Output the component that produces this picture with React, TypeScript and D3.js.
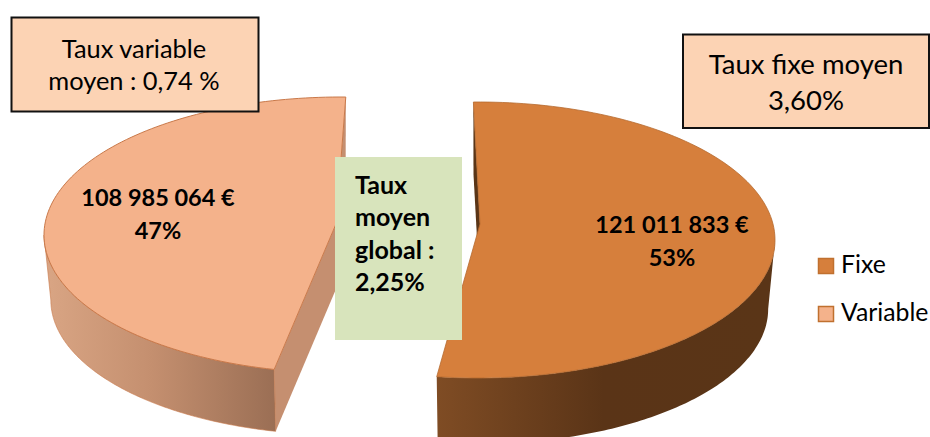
import React from "react";
import * as d3 from "d3";

// values
const categories = ["Fixe", "Variable"];
const amounts = [121011833, 108985064];
const amountLabels = ["121 011 833 €", "108 985 064 €"];
const shareLabels = ["53%", "47%"];
const rateLines = [["Taux fixe moyen", "3,60%"], ["Taux variable", "moyen : 0,74 %"]];
const globalLines = ["Taux", "moyen", "global :", "2,25%"];

const width = 930, height = 437;
const font = "Lato, 'Open Sans', sans-serif";

const topColor = ["#d67f3c", "#f4b28b"];
const edgeColor = ["#b5692e", "#c9794a"];
const endWall = ["#5a3517", "#c58f70"];

// one exploded slice: ellipse of the top face, apex nudge, offset of the lower rim
const slices = [
  { cx: 478, cy: 240, rx: 297, ry: 138, tilt: 0.116, turn: 0, trimStart: 0, trimEnd: 1.3, apexDx: 2, dropY: 69, labelX: 672, labelY: 233 },
  { cx: 341, cy: 235, rx: 297, ry: 138, tilt: 0.08, turn: 2, trimStart: 1.6, trimEnd: 0, apexDx: -5, dropY: 65, labelX: 158, labelY: 206 },
];
const rimScale = 0.977;

const pie = d3.pie<number>().sort(null).startAngle((-1 * Math.PI) / 180).endAngle((359 * Math.PI) / 180);
const arcs = pie(amounts);

type Slice = (typeof slices)[number];

// circle -> ellipse with a bit of perspective, so the apex sits above the ellipse centre
const project = (s: Slice, a: number, lower: boolean): [number, number] => {
  const u = Math.sin(a), v = Math.cos(a);
  const k = 1 + s.tilt * v;
  const scale = lower ? rimScale : 1;
  const x = s.cx + s.rx * scale * (u * Math.sqrt(1 - s.tilt * s.tilt)) / k;
  const y = s.cy + (lower ? s.dropY : 0) - s.ry * scale * ((v + s.tilt) / k);
  return [x, y];
};

const apex = (s: Slice, lower: boolean): [number, number] => [
  s.cx + s.apexDx,
  s.cy - s.ry * s.tilt + (lower ? s.dropY : 0),
];

const line = d3.line();
const sweep = (from: number, to: number) => d3.range(0, 121).map((i) => from + ((to - from) * i) / 120);

const facePath = (s: Slice, a0: number, a1: number) =>
  line([apex(s, false), ...sweep(a0, a1).map((a) => project(s, a, false))]) + "Z";

const rad = (d: number) => (d * Math.PI) / 180;

export default function App() {
  const turned = arcs.map((d, i) => ({
    a0: d.startAngle + rad(slices[i].turn + slices[i].trimStart),
    a1: d.endAngle + rad(slices[i].turn - slices[i].trimEnd),
  }));

  const [r, l] = slices;
  // outer walls: only the part of the rim that faces the viewer, from the widest point of each ellipse
  const wall = (s: Slice, from: number, to: number) => {
    const a = sweep(from, to);
    return line([...a.map((t) => project(s, t, false)), ...a.slice().reverse().map((t) => project(s, t, true))]) + "Z";
  };
  const rightWall = wall(r, Math.acos(-r.tilt), turned[0].a1);
  const leftWall = wall(l, turned[1].a0, 2 * Math.PI - Math.acos(-l.tilt));

  const quad = (s: Slice, a: number) =>
    line([project(s, a, false), project(s, a, true), apex(s, true), apex(s, false)]) + "Z";

  return (
    <svg width={width} height={height} style={{ position: "absolute", left: 0, top: 0, display: "block" }} fontFamily={font}>
      <defs>
        <linearGradient id="wallR" gradientUnits="userSpaceOnUse" x1={437} x2={770} y1={0} y2={0}>
          <stop offset="0" stopColor="#7f4c24" />
          <stop offset="0.5" stopColor="#5a3417" />
          <stop offset="1" stopColor="#5a3517" />
        </linearGradient>
        <linearGradient id="wallL" gradientUnits="userSpaceOnUse" x1={50} x2={277} y1={0} y2={0}>
          <stop offset="0" stopColor="#d8a483" />
          <stop offset="0.45" stopColor="#c48f6f" />
          <stop offset="1" stopColor="#9a6e54" />
        </linearGradient>
      </defs>

      <rect width={width} height={height} fill="#fff" />

      {/* left slice */}
      <path d={quad(l, turned[1].a0)} fill={endWall[1]} />
      <path d={quad(l, turned[1].a1)} fill={endWall[1]} />
      <path d={leftWall} fill="url(#wallL)" stroke={edgeColor[1]} strokeWidth={0.6} />
      <path d={facePath(l, turned[1].a0, turned[1].a1)} fill={topColor[1]} stroke={edgeColor[1]} strokeWidth={1} />

      {/* right slice */}
      <path d={quad(r, turned[0].a0)} fill={endWall[0]} />
      <path d={rightWall} fill="url(#wallR)" />
      <path d={facePath(r, turned[0].a0, turned[0].a1)} fill={topColor[0]} stroke={edgeColor[0]} strokeWidth={0.8} />

      {/* value labels */}
      {slices.map((s, i) => (
        <text key={categories[i]} textAnchor="middle" fontWeight={700} fontSize={23.5} fill="#000">
          <tspan x={s.labelX} y={s.labelY}>{amountLabels[i]}</tspan>
          <tspan x={s.labelX} y={s.labelY + 33}>{shareLabels[i]}</tspan>
        </text>
      ))}

      {/* rate boxes */}
      <rect x={683} y={34.5} width={246} height={93.5} fill="#fcd3b4" stroke="#111" strokeWidth={2} />
      <text textAnchor="middle" fontSize={27.5} fill="#000">
        <tspan x={806} y={74}>{rateLines[0][0]}</tspan>
        <tspan x={806} y={110}>{rateLines[0][1]}</tspan>
      </text>
      <rect x={11.5} y={17.5} width={247} height={94} fill="#fcd3b4" stroke="#111" strokeWidth={2} />
      <text textAnchor="middle" fontSize={25.4} fill="#000">
        <tspan x={134} y={58}>{rateLines[1][0]}</tspan>
        <tspan x={134} y={90}>{rateLines[1][1]}</tspan>
      </text>

      {/* global rate */}
      <rect x={335} y={157} width={127} height={183} fill="#d8e4bc" />
      <text fontWeight={700} fontSize={25} fill="#000">
        {globalLines.map((t, i) => (
          <tspan key={t} x={355} y={194 + i * 32.3}>{t}</tspan>
        ))}
      </text>

      {/* legend */}
      {categories.map((c, i) => (
        <g key={c}>
          <rect x={818.5} y={258.5 + i * 48} width={15} height={15} fill={topColor[i]} stroke="#c0702f" strokeWidth={1.5} />
          <text x={841} y={273 + i * 48} fontSize={24.8} fill="#000">{c}</text>
        </g>
      ))}
    </svg>
  );
}
